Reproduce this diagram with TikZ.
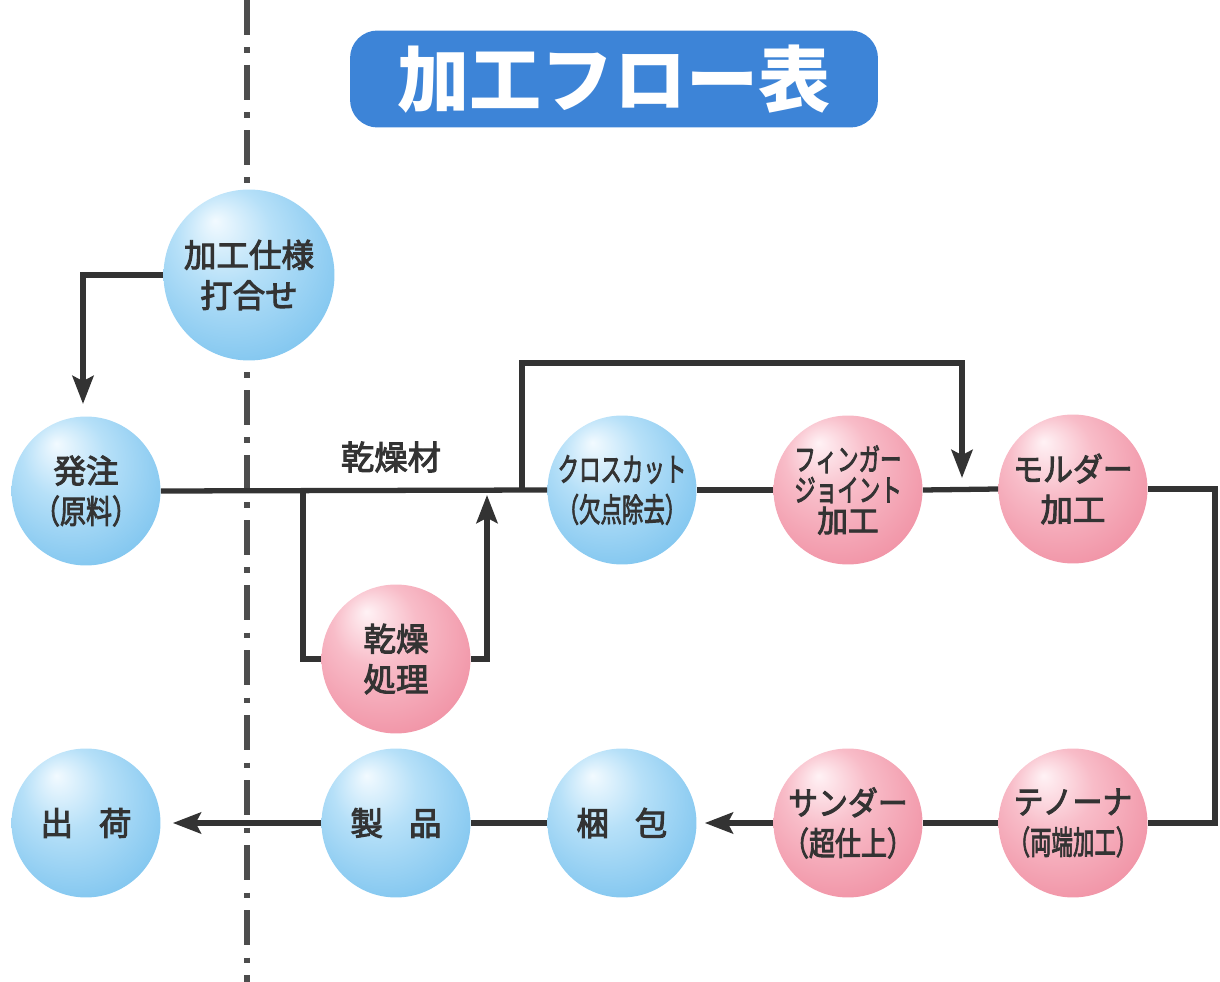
\documentclass[tikz,border=0pt]{standalone}
\usepackage{fontspec}
\newfontfamily\cjk{Noto Sans CJK JP}
\newfontfamily\cjkm[FakeBold=3]{Noto Sans CJK JP}
\usetikzlibrary{arrows.meta}
\definecolor{bHi}{HTML}{F2FAFF}
\definecolor{bMid}{HTML}{B6E0F8}
\definecolor{bOut}{HTML}{6DBCEC}
\definecolor{pHi}{HTML}{FFF2F5}
\definecolor{pMid}{HTML}{F8BCC8}
\definecolor{pOut}{HTML}{EE8499}
\definecolor{txt}{HTML}{333333}
\definecolor{lineC}{HTML}{333333}
\definecolor{cl}{HTML}{4D4D4D}
\definecolor{titleC}{HTML}{3D84D7}
\pgfdeclareradialshading{bsph}{\pgfpoint{-10bp}{16bp}}{color(0bp)=(bHi); color(14bp)=(bMid); color(40bp)=(bOut); color(50bp)=(bOut)}
\pgfdeclareradialshading{psph}{\pgfpoint{-10bp}{16bp}}{color(0bp)=(pHi); color(14bp)=(pMid); color(40bp)=(pOut); color(50bp)=(pOut)}
\newcommand{\nx}[2]{\scalebox{#1}[1]{#2}}
\tikzset{
  sphere/.style={circle, minimum size=2.98cm, inner sep=0pt, align=center,
    text=txt, font=\cjkm\fontsize{18.5}{23}\selectfont},
  bsphere/.style={sphere, shading=bsph},
  psphere/.style={sphere, shading=psph},
  conn/.style={draw=lineC, line width=3pt},
  arr/.style={conn, -{Stealth[length=16pt,width=12pt,inset=3pt]}},
  cline/.style={draw=cl, line width=3pt, dash pattern=on 20pt off 7pt on 3pt off 7pt},
  titlebox/.style={rectangle, rounded corners=0.55cm, fill=titleC, minimum width=10.56cm,
    minimum height=1.94cm, text=white, font=\cjk\bfseries\fontsize{41}{45}\selectfont},
  lbl/.style={text=txt, font=\cjkm\fontsize{19}{22}\selectfont}
}
\begin{document}
\begin{tikzpicture}[x=0.02cm,y=-0.02cm]
\useasboundingbox (0,0) rectangle (1220,982);
% center dash-dot line
\draw[cline] (247,0) -- (247,982);
% title
\node[titlebox] (title) at (614,79) {加工フロー表};
% spheres
\node[bsphere, minimum size=3.42cm] (spec) at (249,275) {加工仕様\\打合せ};
\node[bsphere] (order) at (86,491) {発注\\\nx{0.8}{（原料）}};
\node[psphere] (dry) at (396,659) {乾燥\\処理};
\node[bsphere] (cross) at (622,490) {\nx{0.66}{クロスカット}\\\nx{0.66}{（欠点除去）}};
\node[psphere, font=\cjkm\fontsize{17.5}{17.5}\selectfont] (finger) at (848,490) {\nx{0.7}{フィンガー}\\\nx{0.7}{ジョイント}\\加工};
\node[psphere] (mold) at (1073,489) {\nx{0.92}{モルダー}\\加工};
\node[bsphere] (ship) at (86,823) {出\hspace{0.8em}荷};
\node[bsphere] (prod) at (396,823) {製\hspace{0.8em}品};
\node[bsphere] (pack) at (622,823) {梱\hspace{0.8em}包};
\node[psphere] (sand) at (848,823) {\nx{0.92}{サンダー}\\\nx{0.8}{（超仕上）}};
\node[psphere] (ten) at (1073,823) {\nx{0.92}{テノーナ}\\\nx{0.66}{（両端加工）}};
% label
\node[lbl] (dlabel) at (391,457) {乾燥材};
% coordinates
\coordinate (d1) at (303,490);
\coordinate (d2) at (487,495);
\coordinate (b1) at (522,490);
\coordinate (btop) at (740,363);
\coordinate (b2) at (962,478);
\coordinate (rr) at (1215,650);
\coordinate (specleft) at (83,275);
\coordinate (orderTop) at (83,404);
% connectors
\draw[arr] (spec.west) -- (specleft) -- (orderTop);
\draw[conn] (order.east) -- (cross.west);
\draw[conn] (d1) |- (dry.west);
\draw[arr] (dry.east) -| (d2);
\draw[arr] (b1) |- (btop) -| (b2);
\draw[conn] (cross.east) -- (finger.west);
\draw[conn] (finger.east) -- (mold.west);
\draw[conn] (mold.east) -| (rr) |- (ten.east);
\draw[conn] (ten.west) -- (sand.east);
\draw[arr, shorten >=0.16cm] (sand.west) -- (pack.east);
\draw[conn] (pack.west) -- (prod.east);
\draw[arr, shorten >=0.24cm] (prod.west) -- (ship.east);
\end{tikzpicture}
\end{document}
